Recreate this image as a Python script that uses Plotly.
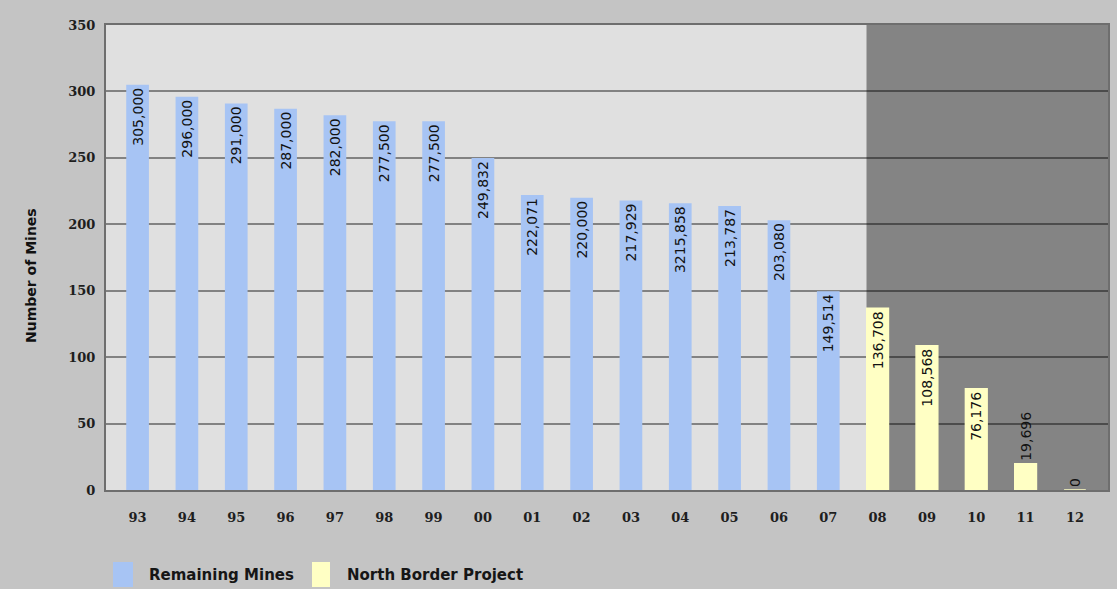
import plotly.graph_objects as go

# Year labels along the x axis
years = ["93", "94", "95", "96", "97", "98", "99", "00", "01", "02",
         "03", "04", "05", "06", "07", "08", "09", "10", "11", "12"]

# Remaining mines (thousands), 1993-2007
remaining_years = years[:15]
remaining_values = [305.0, 296.0, 291.0, 287.0, 282.0, 277.5, 277.5, 249.832,
                    222.071, 220.0, 217.929, 215.858, 213.787, 203.080, 149.514]
remaining_labels = ["305,000", "296,000", "291,000", "287,000", "282,000",
                    "277,500", "277,500", "249,832", "222,071", "220,000",
                    "217,929", "3215,858", "213,787", "203,080", "149,514"]

# North Border Project projection (thousands), 2008-2012
project_years = years[15:]
project_values = [136.708, 108.568, 76.176, 19.696, 0.0]
project_labels = ["136,708", "108,568", "76,176", "19,696", "0"]

y_ticks = [0, 50, 100, 150, 200, 250, 300, 350]

BLUE = "#a7c4f4"
YELLOW = "#ffffc4"
LABEL_FONT = dict(family="DejaVu Sans", size=14, color="#121212")

# plot area in pixels, used to place the hand-drawn legend
L, R, T, B = 106, 1108, 25, 490


def px_x(p):
    return (p - L) / (R - L)


def px_y(p):
    return (B - p) / (B - T)


fig = go.Figure()
fig.add_trace(go.Bar(
    x=remaining_years, y=remaining_values, name="Remaining Mines",
    marker=dict(color=BLUE, line=dict(width=0)),
    width=0.46, text=remaining_labels, textangle=-90,
    textposition="inside", insidetextanchor="end", constraintext="none",
    textfont=LABEL_FONT, cliponaxis=False, showlegend=False,
))
fig.add_trace(go.Bar(
    x=project_years, y=project_values, name="North Border Project",
    marker=dict(color=YELLOW, line=dict(color=YELLOW, width=1.5)),
    width=0.44, text=project_labels, textangle=-90,
    textposition=["inside", "inside", "inside", "outside", "outside"],
    insidetextanchor="end", constraintext="none",
    textfont=LABEL_FONT, cliponaxis=False, showlegend=False,
))

x_range = [-0.64, 19.67]

# Shaded projection period
fig.add_shape(type="rect", xref="x", yref="y", layer="below",
              x0=14.775, x1=x_range[1], y0=0, y1=350,
              fillcolor="#848484", line=dict(width=0))

# Legend: colour swatches and series names below the axis
legend_items = [
    ("Remaining Mines", BLUE, 113, 133, 147),
    ("North Border Project", YELLOW, 312, 330, 345),
]
for name, color, sx0, sx1, tx in legend_items:
    fig.add_shape(type="rect", xref="paper", yref="paper",
                  x0=px_x(sx0), x1=px_x(sx1), y0=px_y(562), y1=px_y(587),
                  fillcolor=color, line=dict(width=0))
    fig.add_annotation(text=name, xref="paper", yref="paper",
                       x=px_x(tx), y=px_y(575), xanchor="left",
                       yanchor="middle", showarrow=False,
                       font=dict(family="DejaVu Sans", size=15,
                                 color="#161616", weight="bold"))

# Axis title
fig.add_annotation(text="Number of Mines", xref="paper", yref="paper",
                   x=px_x(31), y=px_y(276), textangle=-90,
                   xanchor="center", yanchor="middle", showarrow=False,
                   font=dict(family="DejaVu Sans", size=14, color="#111111",
                             weight="bold"))

fig.update_layout(
    width=1117, height=589,
    margin=dict(l=L, r=1117 - R, t=T, b=589 - B, autoexpand=False),
    paper_bgcolor="#c4c4c4",
    plot_bgcolor="#e0e0e0",
    barmode="overlay",
    showlegend=False,
    xaxis=dict(
        type="category", categoryorder="array", categoryarray=years,
        range=x_range, showgrid=False, zeroline=False,
        ticks="outside", ticklen=14, tickcolor="rgba(0,0,0,0)",
        tickfont=dict(family="DejaVu Serif", size=13, color="#1e1e1e",
                      weight="bold"),
        showline=True, linecolor="#6e6e6e", linewidth=2, mirror=True,
    ),
    yaxis=dict(
        range=[0, 350], tickvals=y_ticks,
        showgrid=True, gridcolor="rgba(0,0,0,0.42)", gridwidth=2,
        zeroline=False,
        ticks="outside", ticklen=6, tickcolor="rgba(0,0,0,0)",
        tickfont=dict(family="DejaVu Serif", size=13, color="#1e1e1e",
                      weight="bold"),
        showline=True, linecolor="#6e6e6e", linewidth=2, mirror=True,
    ),
)

fig.write_html("out.html")
